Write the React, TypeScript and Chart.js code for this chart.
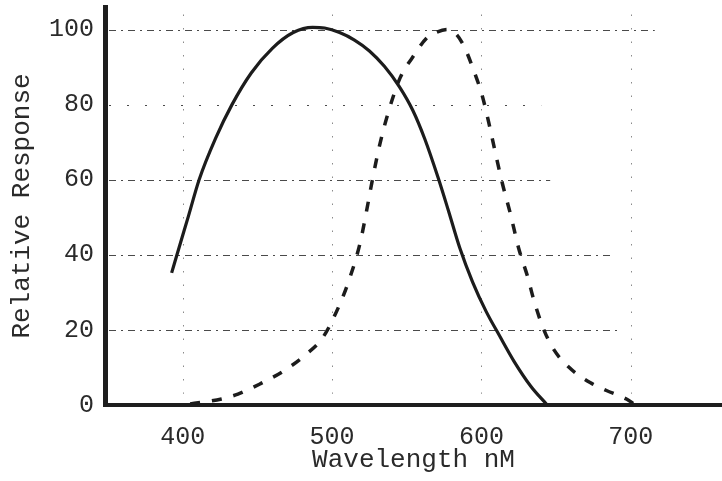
import React, { useEffect, useRef } from "react";
import { Chart, registerables } from "chart.js";

Chart.register(...registerables);

// Solid curve (wavelength nm, relative response)
const solidX = [392.6, 398, 404, 411, 422, 433, 446, 460, 474, 487, 495, 505, 515, 525, 535, 545, 554, 562, 571, 578, 585.5, 594, 603, 612, 622, 633, 644];
const solidY = [35.2, 42.5, 50.5, 60, 71, 80, 88.5, 95, 99.2, 100.6, 100.4, 99.2, 97.2, 94.3, 90.2, 84.8, 78.5, 70.9, 60.5, 51.6, 41.8, 32.8, 25, 18.5, 11.5, 5, 0];

// Dashed curve
const dashedX = [405, 426, 437, 451.7, 468.5, 482, 494, 505, 512, 518.8, 523, 527, 532, 537.6, 545.6, 553.7, 563.8, 570, 577, 583, 588, 594, 600.7, 605, 609.4, 614, 619.5, 624.8, 631, 635, 641, 647.7, 658.4, 673, 684, 697, 702];
const dashedY = [0.3, 1.6, 2.9, 5.6, 9.3, 13.3, 18.1, 26.7, 34, 43.2, 51.5, 60, 69.5, 77.9, 87.2, 92.5, 97.9, 99.3, 100, 98.8, 95.8, 90, 82.1, 75, 67, 59, 50.7, 41.9, 34, 28, 20.8, 15.2, 10.1, 5.9, 3.8, 1.6, 0.3];

const xTicks = [400, 500, 600, 700];
const yTicks = [0, 20, 40, 60, 80, 100];
const hGridValues = [20, 40, 60, 80, 100];
const hGridEnds = [691, 688, 646, 640, 716];
const vGridValues = [400, 500, 600, 700];

const FONT = '"Liberation Mono", "DejaVu Sans Mono", monospace';

const gridPlugin = {
  id: "typedGrid",
  beforeDatasetsDraw(chart: any) {
    const { ctx, scales, chartArea } = chart;
    const x = scales.x;
    const y = scales.y;
    ctx.save();
    ctx.strokeStyle = "#4a4a4a";
    ctx.lineWidth = 1;
    hGridValues.forEach((v, i) => {
      const py = Math.round(y.getPixelForValue(v)) + 0.5;
      ctx.setLineDash(v === 80 ? [2, 16] : [7, 5, 2, 5]);
      ctx.beginPath();
      ctx.moveTo(chartArea.left + 4, py);
      ctx.lineTo(x.getPixelForValue(hGridEnds[i]), py);
      ctx.stroke();
    });
    ctx.strokeStyle = "#8a8a8a";
    ctx.setLineDash([1.5, 12]);
    vGridValues.forEach((v) => {
      const px = Math.round(x.getPixelForValue(v)) + 0.5;
      ctx.beginPath();
      ctx.moveTo(px, y.getPixelForValue(104));
      ctx.lineTo(px, y.getPixelForValue(3));
      ctx.stroke();
    });
    ctx.restore();
  },
};

export default function App() {
  const ref = useRef<HTMLCanvasElement | null>(null);

  useEffect(() => {
    if (!ref.current) return;
    const chart = new Chart(ref.current, {
      type: "line",
      data: {
        datasets: [
          {
            data: solidX.map((v, i) => ({ x: v, y: solidY[i] })),
            borderColor: "#1c1c1c",
            borderWidth: 3.2,
            pointRadius: 0,
            fill: false,
            cubicInterpolationMode: "monotone",
          },
          {
            data: dashedX.map((v, i) => ({ x: v, y: dashedY[i] })),
            borderColor: "#1c1c1c",
            borderWidth: 3.5,
            borderDash: [10, 12],
            pointRadius: 0,
            fill: false,
            cubicInterpolationMode: "monotone",
          },
        ],
      },
      options: {
        animation: false,
        responsive: false,
        devicePixelRatio: 1,
        layout: { padding: { top: 7, right: 0, bottom: 0, left: 0 } },
        plugins: { legend: { display: false }, tooltip: { enabled: false } },
        scales: {
          x: {
            type: "linear",
            min: 348,
            max: 761,
            grid: { display: false, drawTicks: false },
            border: { display: true, width: 4, color: "#1e1e1e" },
            afterBuildTicks: (s: any) => {
              s.ticks = xTicks.map((v) => ({ value: v }));
            },
            afterFit: (s: any) => {
              s.height = 76;
              s.paddingLeft = 0;
              s.paddingRight = 0;
            },
            ticks: {
              padding: 17,
              color: "#2a2a2a",
              font: { family: FONT, size: 25 },
              maxRotation: 0,
            },
            title: {
              display: true,
              text: "Wavelength nM",
              color: "#2a2a2a",
              font: { family: FONT, size: 26 },
              padding: { top: 0, bottom: 5 },
            },
          },
          y: {
            type: "linear",
            min: 0,
            max: 106,
            grid: { display: false, drawTicks: false },
            border: { display: true, width: 5, color: "#1e1e1e" },
            afterBuildTicks: (s: any) => {
              s.ticks = yTicks.map((v) => ({ value: v }));
            },
            afterFit: (s: any) => {
              s.width = 105;
              s.paddingTop = 0;
              s.paddingBottom = 0;
            },
            ticks: {
              padding: 11,
              color: "#2a2a2a",
              font: { family: FONT, size: 25 },
            },
            title: {
              display: true,
              text: "Relative Response",
              color: "#2a2a2a",
              font: { family: FONT, size: 26 },
              padding: { top: 7, bottom: 0 },
            },
          },
        },
      },
      plugins: [gridPlugin],
    } as any);
    return () => chart.destroy();
  }, []);

  return (
    <div style={{ position: "absolute", left: 0, top: 0, width: 722, height: 481, background: "#fff" }}>
      <canvas ref={ref} width={722} height={481} />
    </div>
  );
}
